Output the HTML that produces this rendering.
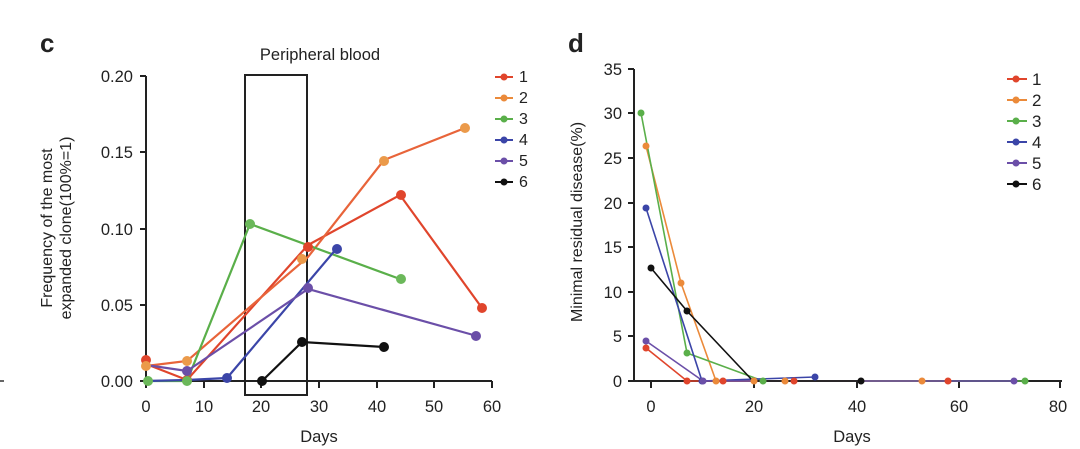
<!DOCTYPE html><html><head><style>body{margin:0;background:#fff}svg{display:block}text{font-family:"Liberation Sans",sans-serif;fill:#222}</style></head><body>
<svg width="1080" height="449" viewBox="0 0 1080 449">
<text x="40" y="52" font-size="26" font-weight="bold">c</text>
<text x="568" y="52" font-size="26" font-weight="bold">d</text>
<g stroke="#222" stroke-width="2" fill="none">
<path d="M146 76V381H492"/>
<path d="M140 76H146M140 152H146M140 229H146M140 305H146M140 381H146"/>
<path d="M146 381V388M204 381V388M261 381V388M319 381V388M377 381V388M434 381V388M492 381V388"/>
<rect x="245" y="75" width="62" height="320"/>
</g>
<g font-size="16.5" text-anchor="end"><text x="133" y="82">0.20</text><text x="133" y="158">0.15</text><text x="133" y="235">0.10</text><text x="133" y="311">0.05</text><text x="133" y="387">0.00</text></g>
<g font-size="16.5" text-anchor="middle"><text x="146" y="412">0</text><text x="204" y="412">10</text><text x="261" y="412">20</text><text x="319" y="412">30</text><text x="377" y="412">40</text><text x="434" y="412">50</text><text x="492" y="412">60</text><text x="319" y="442">Days</text><text x="320" y="60">Peripheral blood</text></g>
<text font-size="16" text-anchor="middle" transform="translate(52,228) rotate(-90)">Frequency of the most</text>
<text font-size="16" text-anchor="middle" transform="translate(71,228) rotate(-90)">expanded clone(100%=1)</text>
<g fill="none" stroke-width="2.2">
<polyline stroke="#e0452c" points="146,364 187,380 308,245 400,195 482,308"/>
<polyline stroke="#e8643a" points="146,366 187,361 308,257 384,160 465,128"/>
<polyline stroke="#5aaf4a" points="146,381 187,381 250,224 400,279"/>
<polyline stroke="#3b45a8" points="146,381 187,380 227,378 337,248"/>
<polyline stroke="#6b4fa8" points="146,365 187,371 308,289 477,336"/>
<polyline stroke="#111" points="262,381 302,342 384,347"/>
</g>
<g>
<g fill="#e0452c"><circle cx="146" cy="360" r="5"/><circle cx="187" cy="380" r="5"/><circle cx="308" cy="247" r="5"/><circle cx="401" cy="195" r="5"/><circle cx="482" cy="308" r="5"/></g>
<g fill="#eb9a4a"><circle cx="146" cy="366" r="5"/><circle cx="187" cy="361" r="5"/><circle cx="302" cy="259" r="5"/><circle cx="384" cy="161" r="5"/><circle cx="465" cy="128" r="5"/></g>
<g fill="#6bb85a"><circle cx="148" cy="381" r="5"/><circle cx="187" cy="381" r="5"/><circle cx="250" cy="224" r="5"/><circle cx="401" cy="279" r="5"/></g>
<g fill="#3b45a8"><circle cx="227" cy="378" r="5"/><circle cx="337" cy="249" r="5"/></g>
<g fill="#6b4fa8"><circle cx="187" cy="371" r="5"/><circle cx="308" cy="288" r="5"/><circle cx="476" cy="336" r="5"/></g>
<g fill="#111"><circle cx="262" cy="381" r="5"/><circle cx="302" cy="342" r="5"/><circle cx="384" cy="347" r="5"/></g>
</g>
<g font-size="16" stroke-width="2">
<line x1="495" y1="77" x2="513" y2="77" stroke="#e0452c"/><circle cx="504" cy="77" r="3.5" fill="#e0452c"/><text x="519" y="82">1</text>
<line x1="495" y1="98" x2="513" y2="98" stroke="#eb8a3a"/><circle cx="504" cy="98" r="3.5" fill="#eb8a3a"/><text x="519" y="103">2</text>
<line x1="495" y1="119" x2="513" y2="119" stroke="#5aaf4a"/><circle cx="504" cy="119" r="3.5" fill="#5aaf4a"/><text x="519" y="124">3</text>
<line x1="495" y1="140" x2="513" y2="140" stroke="#3b45a8"/><circle cx="504" cy="140" r="3.5" fill="#3b45a8"/><text x="519" y="145">4</text>
<line x1="495" y1="161" x2="513" y2="161" stroke="#6b4fa8"/><circle cx="504" cy="161" r="3.5" fill="#6b4fa8"/><text x="519" y="166">5</text>
<line x1="495" y1="182" x2="513" y2="182" stroke="#111"/><circle cx="504" cy="182" r="3.5" fill="#111"/><text x="519" y="187">6</text>
</g>
<g stroke="#222" stroke-width="2" fill="none">
<path d="M634 69V381H1062"/>
<path d="M628 69H634M628 113H634M628 158H634M628 203H634M628 247H634M628 292H634M628 336H634M628 381H634"/>
<path d="M651 381V388M754 381V388M857 381V388M959 381V388M1060 381V388"/>
</g>
<g font-size="16.5" text-anchor="end"><text x="622" y="75">35</text><text x="622" y="119">30</text><text x="622" y="164">25</text><text x="622" y="209">20</text><text x="622" y="253">15</text><text x="622" y="298">10</text><text x="622" y="342">5</text><text x="622" y="387">0</text></g>
<g font-size="16.5" text-anchor="middle"><text x="651" y="412">0</text><text x="754" y="412">20</text><text x="857" y="412">40</text><text x="959" y="412">60</text><text x="1058" y="412">80</text><text x="852" y="442">Days</text></g>
<text font-size="16" text-anchor="middle" transform="translate(582,222) rotate(-90)">Minimal residual disease(%)</text>
<g fill="none" stroke-width="1.6">
<polyline stroke="#e0452c" points="646,348 687,381 723,381 794,381 948,381"/>
<polyline stroke="#eb8a3a" points="646,146 681,283 716,381 922,381"/>
<polyline stroke="#5aaf4a" points="641,113 687,353 763,381 1025,381"/>
<polyline stroke="#3b45a8" points="646,208 702,381 815,377"/>
<polyline stroke="#6b4fa8" points="646,341 703,381 1014,381"/>
<polyline stroke="#111" points="651,268 687,311 753,381 861,381"/>
</g>
<g>
<g fill="#e0452c"><circle cx="646" cy="348" r="3.5"/><circle cx="687" cy="381" r="3.5"/><circle cx="723" cy="381" r="3.5"/><circle cx="794" cy="381" r="3.5"/><circle cx="948" cy="381" r="3.5"/></g>
<g fill="#eb8a3a"><circle cx="646" cy="146" r="3.5"/><circle cx="681" cy="283" r="3.5"/><circle cx="716" cy="381" r="3.5"/><circle cx="754" cy="381" r="3.5"/><circle cx="785" cy="381" r="3.5"/><circle cx="922" cy="381" r="3.5"/></g>
<g fill="#5aaf4a"><circle cx="641" cy="113" r="3.5"/><circle cx="687" cy="353" r="3.5"/><circle cx="763" cy="381" r="3.5"/><circle cx="1025" cy="381" r="3.5"/></g>
<g fill="#3b45a8"><circle cx="646" cy="208" r="3.5"/><circle cx="702" cy="381" r="3.5"/><circle cx="815" cy="377" r="3.5"/></g>
<g fill="#6b4fa8"><circle cx="646" cy="341" r="3.5"/><circle cx="703" cy="381" r="3.5"/><circle cx="1014" cy="381" r="3.5"/></g>
<g fill="#111"><circle cx="651" cy="268" r="3.5"/><circle cx="687" cy="311" r="3.5"/><circle cx="861" cy="381" r="3.5"/></g>
</g>
<g font-size="17" stroke-width="2">
<line x1="1007" y1="79" x2="1027" y2="79" stroke="#e0452c"/><circle cx="1016" cy="79" r="3.5" fill="#e0452c"/><text x="1032" y="85">1</text>
<line x1="1007" y1="100" x2="1027" y2="100" stroke="#eb8a3a"/><circle cx="1016" cy="100" r="3.5" fill="#eb8a3a"/><text x="1032" y="106">2</text>
<line x1="1007" y1="121" x2="1027" y2="121" stroke="#5aaf4a"/><circle cx="1016" cy="121" r="3.5" fill="#5aaf4a"/><text x="1032" y="127">3</text>
<line x1="1007" y1="142" x2="1027" y2="142" stroke="#3b45a8"/><circle cx="1016" cy="142" r="3.5" fill="#3b45a8"/><text x="1032" y="148">4</text>
<line x1="1007" y1="163" x2="1027" y2="163" stroke="#6b4fa8"/><circle cx="1016" cy="163" r="3.5" fill="#6b4fa8"/><text x="1032" y="169">5</text>
<line x1="1007" y1="184" x2="1027" y2="184" stroke="#111"/><circle cx="1016" cy="184" r="3.5" fill="#111"/><text x="1032" y="190">6</text>
</g>
<line x1="0" y1="381" x2="4" y2="381" stroke="#333" stroke-width="1.5"/>
</svg></body></html>
